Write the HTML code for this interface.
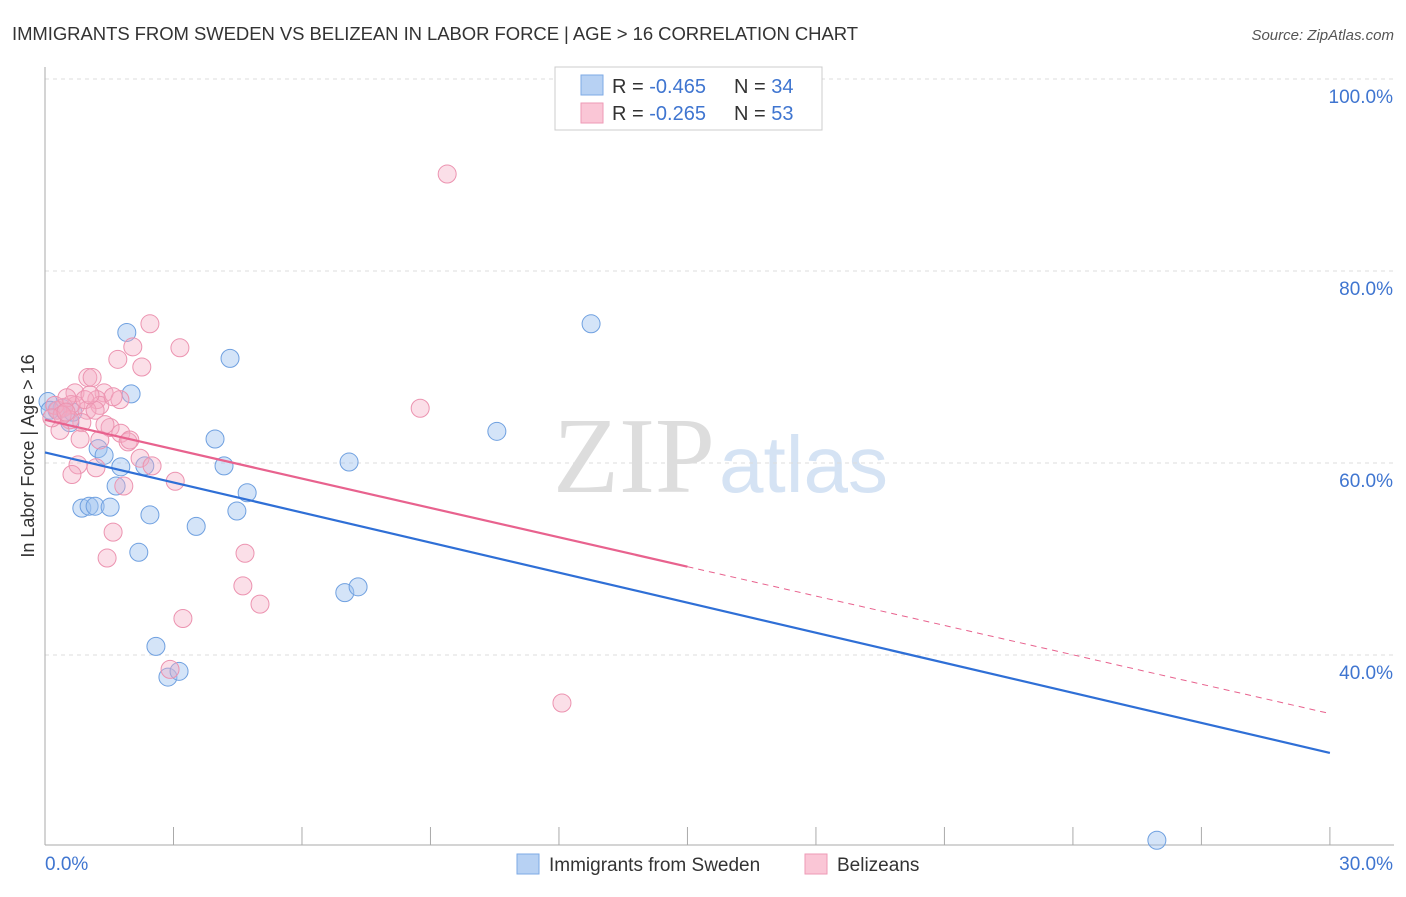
<!DOCTYPE html>
<html><head><meta charset="utf-8"><style>
body{margin:0;background:#fff;font-family:"Liberation Sans",sans-serif;}
</style></head><body>
<svg id="c" width="1406" height="892" xmlns="http://www.w3.org/2000/svg" font-family="Liberation Sans, sans-serif">
<text x="12" y="40" font-size="18.5" fill="#333" textLength="846">IMMIGRANTS FROM SWEDEN VS BELIZEAN IN LABOR FORCE | AGE &gt; 16 CORRELATION CHART</text>
<text x="1394" y="40" font-size="15" fill="#555" font-style="italic" text-anchor="end">Source: ZipAtlas.com</text>
<g>
<text x="553" y="492" font-size="108" fill="#ddd" font-family="Liberation Serif, serif">ZIP</text>
<text x="719" y="492" font-size="80" fill="#d5e3f4">atlas</text>
</g>
<g id="grid"></g>
<g id="axes"></g>
<g id="pts"></g>
<g id="lines"></g>
<g>
<rect x="555" y="67" width="267" height="63" fill="#fff" stroke="#ccc"/>
<rect x="581" y="75" width="22" height="20" fill="#b7d1f3" stroke="#7eaae6"/>
<rect x="581" y="103" width="22" height="20" fill="#fac6d6" stroke="#ee9ab6"/>
<text x="612" y="93" font-size="20" fill="#333">R = <tspan fill="#3f75d0">-0.465</tspan><tspan x="734">N = </tspan><tspan fill="#3f75d0">34</tspan></text>
<text x="612" y="120" font-size="20" fill="#333">R = <tspan fill="#3f75d0">-0.265</tspan><tspan x="734">N = </tspan><tspan fill="#3f75d0">53</tspan></text>
</g>
<g>
<rect x="517" y="854" width="22" height="20" fill="#b7d1f3" stroke="#7eaae6"/>
<text x="549" y="871" font-size="19" fill="#333">Immigrants from Sweden</text>
<rect x="805" y="854" width="22" height="20" fill="#fac6d6" stroke="#ee9ab6"/>
<text x="837" y="871" font-size="19" fill="#333">Belizeans</text>
</g>
<text transform="translate(34,456) rotate(-90)" font-size="18" fill="#333" text-anchor="middle">In Labor Force | Age &gt; 16</text>
</svg>
<script>
const yTicks=[100,80,60,40];
const yTickLabels=["100.0%","80.0%","60.0%","40.0%"];
const xTickVals=[0,3,6,9,12,15,18,21,24,27,30];
const xEndLabels=["0.0%","30.0%"];
const swedenX=[1.91,2.01,4.32,3.97,1.24,1.38,1.77,2.33,4.18,1.66,4.72,0.86,1.03,1.17,1.52,2.45,4.48,3.53,2.19,2.59,2.87,3.13,12.75,10.55,7.10,7.00,7.31,25.96,0.07,0.28,0.58,0.40,0.65,0.12];
const swedenY=[73.6,67.2,70.9,62.5,61.5,60.8,59.6,59.7,59.7,57.6,56.9,55.3,55.5,55.5,55.4,54.6,55.0,53.4,50.7,40.9,37.7,38.3,74.5,63.3,60.1,46.5,47.1,20.7,66.4,65.5,64.2,65.7,65.3,65.5];
const belizeX=[2.45,9.39,3.15,2.05,1.70,2.26,1.00,1.10,1.38,0.70,1.21,1.75,0.72,1.28,0.98,0.61,0.44,0.30,1.52,0.86,0.58,0.35,1.77,1.94,1.28,0.82,2.22,2.50,0.77,1.19,0.63,1.84,3.04,1.59,1.45,4.67,4.62,5.02,3.22,2.92,8.76,12.07,0.23,0.40,0.51,0.93,1.59,1.17,0.16,1.98,1.40,0.49,1.05];
const belizeY=[74.5,90.1,72.0,72.1,70.8,70.0,68.9,68.9,67.3,67.3,66.6,66.6,66.0,66.0,65.5,66.1,65.8,65.5,63.7,64.2,64.5,63.4,63.1,62.2,62.4,62.5,60.5,59.7,59.8,59.5,58.8,57.6,58.1,52.8,50.1,50.6,47.2,45.3,43.8,38.5,65.7,35.0,66.0,65.0,66.8,66.6,66.9,65.5,64.7,62.4,64.0,65.3,67.1];
const swedenTrend=[61.1,29.8];
const belizeTrend=[64.5,49.2,33.9];
const NS="http://www.w3.org/2000/svg";
const X=v=>45+v*42.83, Y=v=>79+(100-v)*9.6;
function mk(p,t,a){const e=document.createElementNS(NS,t);for(const k in a)e.setAttribute(k,a[k]);p.appendChild(e);return e;}
const grid=document.getElementById('grid'),axes=document.getElementById('axes'),pts=document.getElementById('pts'),lines=document.getElementById('lines');
yTicks.forEach((v,i)=>{
 const g=mk(grid,'line',{x1:45,x2:1394,y1:Y(v),y2:Y(v),stroke:'#ddd','stroke-dasharray':'4,4'});
 
 
 const t=mk(axes,'text',{x:1393,y:Y(v)+24,'font-size':19,fill:'#3f75d0','text-anchor':'end'});
 t.textContent=yTickLabels[i];
 
 
});
const ya=mk(axes,'line',{x1:45,x2:45,y1:67,y2:845,stroke:'#aaa'});


const xa=mk(axes,'line',{x1:45,x2:1394,y1:845,y2:845,stroke:'#aaa'});


xTickVals.forEach(v=>{
 const t=mk(axes,'line',{x1:X(v),x2:X(v),y1:827,y2:845,stroke:'#aaa'});
 
 
});
[[0,'start',45],[30,'end',1393]].forEach((a,i)=>{
 const t=mk(axes,'text',{x:a[2],y:870,'font-size':19,fill:'#3f75d0','text-anchor':a[1]});
 t.textContent=xEndLabels[i];
 
 
});
swedenX.forEach((x,i)=>{
 const c=mk(pts,'circle',{cx:X(x),cy:Y(swedenY[i]),r:9,fill:'rgba(160,196,240,0.45)',stroke:'#6fa0e0','stroke-width':1});
 
 
});
belizeX.forEach((x,i)=>{
 const c=mk(pts,'circle',{cx:X(x),cy:Y(belizeY[i]),r:9,fill:'rgba(244,170,195,0.38)',stroke:'#ec93b0','stroke-width':1});
 
 
});
const l1=mk(lines,'line',{x1:X(0),y1:Y(swedenTrend[0]),x2:X(30),y2:Y(swedenTrend[1]),stroke:'#2f6fd6','stroke-width':2.2});


const l2=mk(lines,'line',{x1:X(0),y1:Y(belizeTrend[0]),x2:X(15),y2:Y(belizeTrend[1]),stroke:'#e8628e','stroke-width':2.2});


const l3=mk(lines,'line',{x1:X(15),y1:Y(belizeTrend[1]),x2:X(30),y2:Y(belizeTrend[2]),stroke:'#e8628e','stroke-width':1,'stroke-dasharray':'6,5'});


</script>
</body></html>
